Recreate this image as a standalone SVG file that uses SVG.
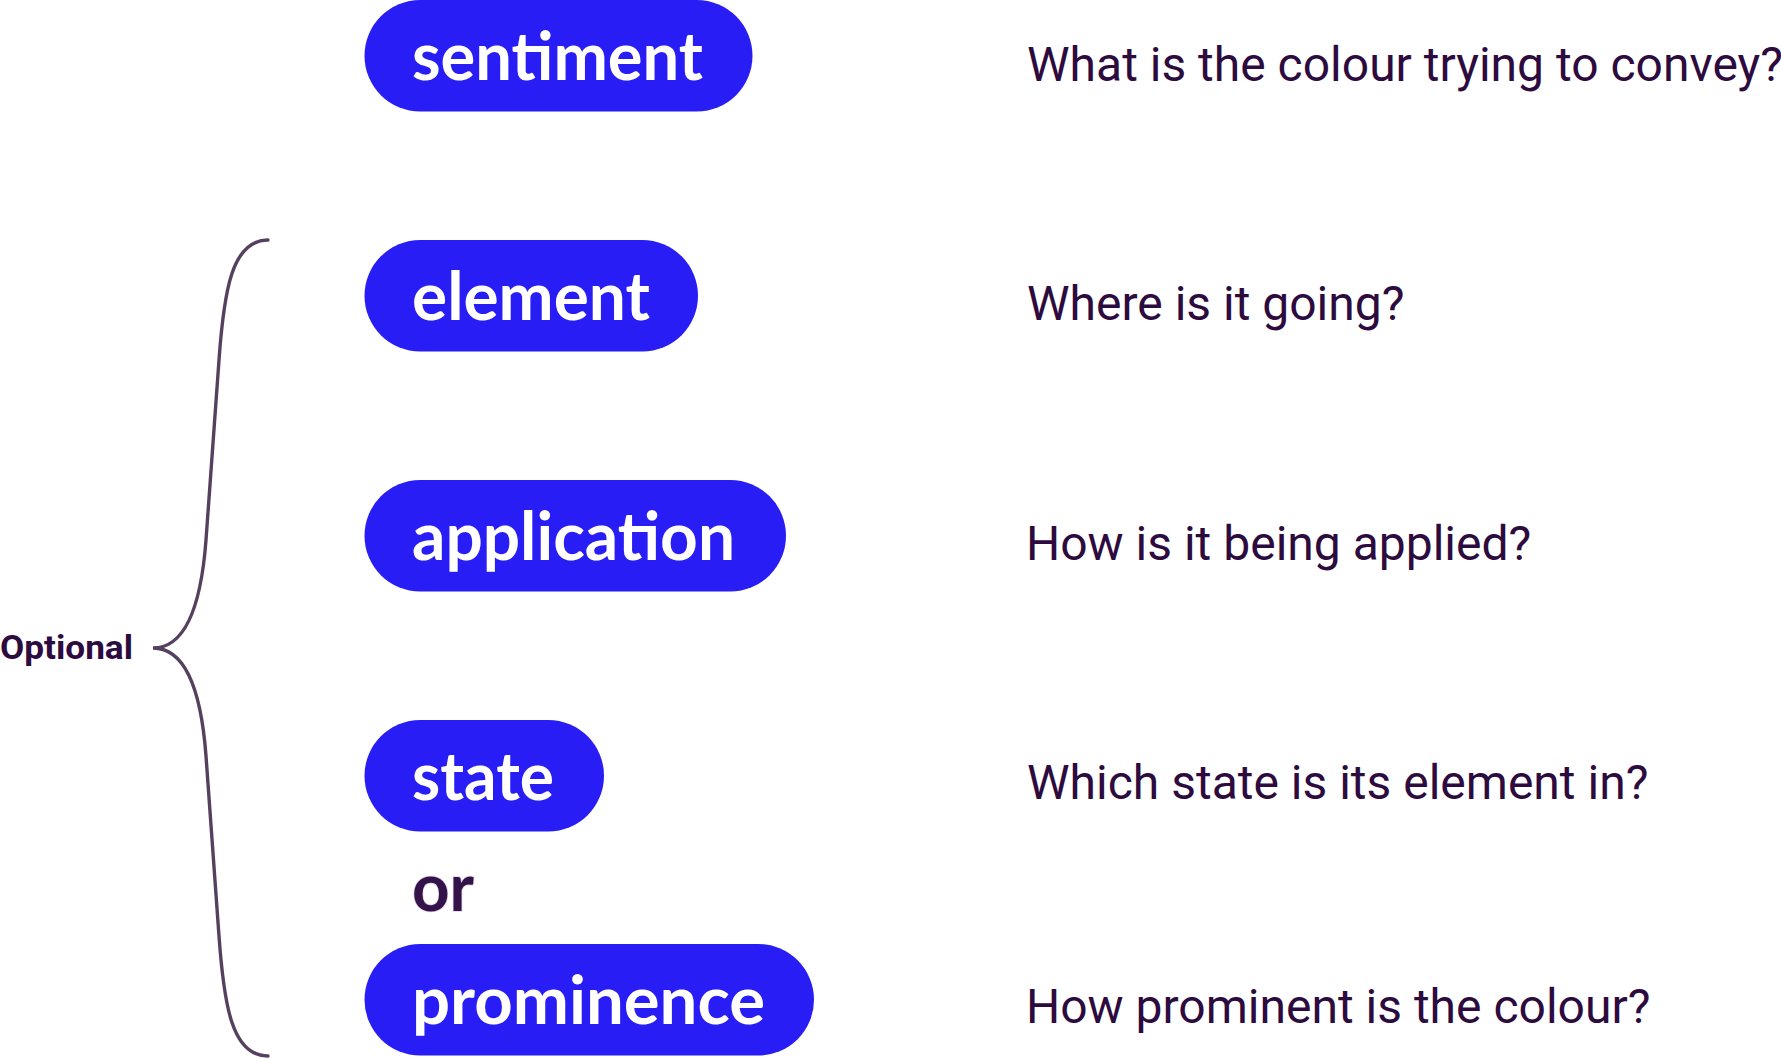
<svg xmlns="http://www.w3.org/2000/svg" width="1781" height="1058" viewBox="0 0 1781 1058">
  <style>
    .pill { fill: #281df5; }
    .pilltext { font-family: Lato, "Noto Sans", sans-serif; font-weight: 700; font-size: 66px; fill: #ffffff; }
    .q { font-family: Roboto, "Liberation Sans", sans-serif; font-weight: 400; font-size: 48px; fill: #2d0b3e; }
    .opt { font-family: Roboto, "Liberation Sans", sans-serif; font-weight: 700; font-size: 34px; fill: #2d0b3e; }
    .or { font-family: Lato, "Noto Sans", sans-serif; font-weight: 700; font-size: 66px; fill: #34124a; stroke: #ddd5e3; stroke-width: 1.5; paint-order: stroke; }
    .brace { fill: none; stroke: #564060; stroke-width: 3.4; stroke-linecap: round; }
  </style>
  <rect width="1781" height="1058" fill="#ffffff"/>

  <g id="connectors">
    <path class="brace" d="M268,240 C232,240 224,290 219,360 L206,540 C200,620 180,648 153,648 C180,648 200,676 206,756 L219,936 C224,1006 232,1056 268,1056"/>
  </g>

  <g id="node-optional">
    <text class="opt" x="0" y="658.5" textLength="133" lengthAdjust="spacingAndGlyphs">Optional</text>
  </g>

  <g id="node-sentiment">
    <rect class="pill" x="364.5" y="0" width="388" height="111.5" rx="55.75"/>
    <text class="pilltext" x="412" y="80" textLength="291" lengthAdjust="spacingAndGlyphs">sentiment</text>
  </g>
  <g id="node-element">
    <rect class="pill" x="364.5" y="240" width="333.5" height="111.5" rx="55.75"/>
    <text class="pilltext" x="412" y="320" textLength="238" lengthAdjust="spacingAndGlyphs">element</text>
  </g>
  <g id="node-application">
    <rect class="pill" x="364.5" y="480" width="421.5" height="111.5" rx="55.75"/>
    <text class="pilltext" x="412" y="560" textLength="323" lengthAdjust="spacingAndGlyphs">application</text>
  </g>
  <g id="node-state">
    <rect class="pill" x="364.5" y="720" width="239.5" height="111.5" rx="55.75"/>
    <text class="pilltext" x="412" y="800" textLength="142" lengthAdjust="spacingAndGlyphs">state</text>
  </g>
  <g id="node-or">
    <text class="or" x="412" y="911" textLength="62" lengthAdjust="spacingAndGlyphs">or</text>
  </g>
  <g id="node-prominence">
    <rect class="pill" x="364.5" y="944" width="449.5" height="111.5" rx="55.75"/>
    <text class="pilltext" x="412" y="1024" textLength="353" lengthAdjust="spacingAndGlyphs">prominence</text>
  </g>

  <g id="questions">
    <text class="q" x="1027" y="80.5">What is the colour trying to convey?</text>
    <text class="q" x="1027" y="319.5">Where is it going?</text>
    <text class="q" x="1026" y="560">How is it being applied?</text>
    <text class="q" x="1027" y="799">Which state is its element in?</text>
    <text class="q" x="1026" y="1023">How prominent is the colour?</text>
  </g>
</svg>
